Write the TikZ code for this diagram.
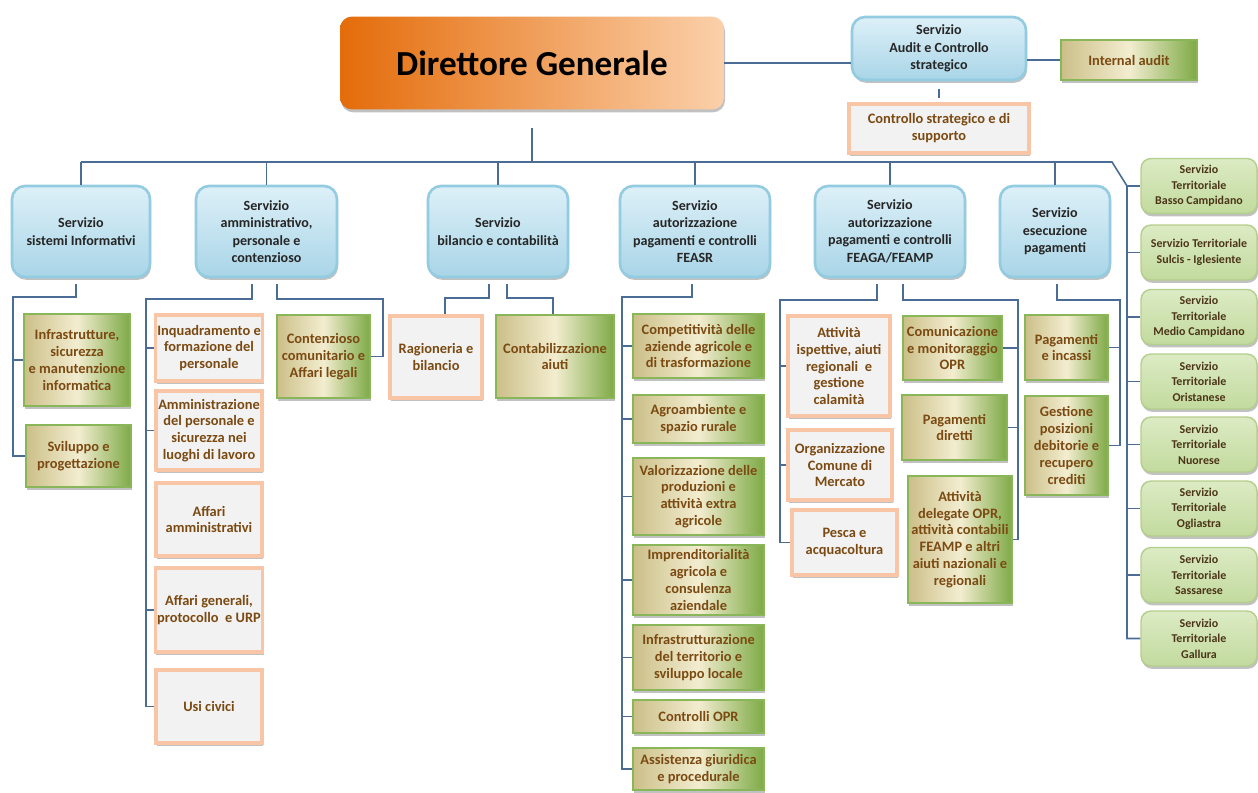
\documentclass[tikz,border=0pt]{standalone}
\usepackage{fontspec}
\setmainfont{Carlito}
\usetikzlibrary{shadows}
\definecolor{lineablu}{HTML}{4A6C95}
\definecolor{bluchiaro}{HTML}{DDF0F8}
\definecolor{blumedio}{HTML}{A9D5E7}
\definecolor{blubordo}{HTML}{93CBE0}
\definecolor{aranscuro}{HTML}{E46C0A}
\definecolor{aranchiaro}{HTML}{FBD0AA}
\definecolor{verdescuro}{HTML}{7EAA47}
\definecolor{crema}{HTML}{F3EDD0}
\definecolor{beige}{HTML}{CBBF88}
\definecolor{verdebordo}{HTML}{8AB65A}
\definecolor{pesca}{HTML}{F8C6A6}
\definecolor{grigino}{HTML}{F2F2F2}
\definecolor{marrone}{HTML}{7B4A12}
\definecolor{terrchiaro}{HTML}{DCEBC4}
\definecolor{terrscuro}{HTML}{C2DA9E}
\definecolor{terrbordo}{HTML}{B3CF8C}
\definecolor{terrtesto}{HTML}{4B3418}
\begin{document}
\begin{tikzpicture}[x=0.02cm, y=-0.02cm,
  linea/.style={draw=lineablu, line width=0.9pt},
  ombra/.style={drop shadow={shadow xshift=0.6pt, shadow yshift=-1.6pt, opacity=0.35, fill=black!70}},
  capo/.style={rectangle, rounded corners=0.24cm, left color=aranscuro, right color=aranchiaro, font=\bfseries\fontsize{20}{24}\selectfont, text=black, ombra},
  blu/.style={rectangle, rounded corners=0.26cm, draw=blubordo, line width=1.5pt, top color=bluchiaro, bottom color=blumedio, align=center, font=\bfseries\fontsize{8}{10}\selectfont, text=black!85, inner sep=1pt, ombra},
  verde/.style={rectangle, draw=verdebordo, line width=1.2pt, left color=beige, right color=verdescuro, middle color=crema, align=center, font=\bfseries\fontsize{8.2}{9.6}\selectfont, text=marrone, inner sep=1pt, ombra},
  arancio/.style={rectangle, draw=pesca, line width=2pt, fill=grigino, align=center, font=\bfseries\fontsize{8.2}{9.6}\selectfont, text=marrone, inner sep=1pt, ombra},
  terr/.style={rectangle, rounded corners=0.2cm, draw=terrbordo, line width=0.8pt, top color=terrchiaro, bottom color=terrscuro, align=center, font=\bfseries\fontsize{6.8}{8.8}\selectfont, text=terrtesto, inner sep=1pt, minimum width=2.32cm, minimum height=1.1cm, ombra}]
\useasboundingbox (0,0) rectangle (1258,792);

\node[capo, minimum width=7.68cm, minimum height=1.86cm] (dg) at (532,63) {Direttore Generale};
\node[blu, minimum width=3.48cm, minimum height=1.26cm] (audit) at (939,48.5) {Servizio\\Audit e Controllo\\strategico};
\node[verde, minimum width=2.72cm, minimum height=0.8cm] (internal) at (1129,60) {Internal audit};
\node[arancio, minimum width=3.6cm, minimum height=0.98cm] (strat) at (939,128.5) {Controllo strategico e di\\supporto};

\node[blu, minimum width=2.76cm, minimum height=1.82cm] (sistemi) at (81,231.5) {Servizio\\sistemi Informativi};
\node[blu, minimum width=2.82cm, minimum height=1.82cm] (ammin) at (266.5,231.5) {Servizio\\amministrativo,\\personale e\\contenzioso};
\node[blu, minimum width=2.8cm, minimum height=1.82cm] (bilancio) at (498,231.5) {Servizio\\bilancio e contabilità};
\node[blu, minimum width=3cm, minimum height=1.82cm] (feasr) at (695,231.5) {Servizio\\autorizzazione\\pagamenti e controlli\\FEASR};
\node[blu, minimum width=3cm, minimum height=1.82cm] (feaga) at (890,231.5) {Servizio\\autorizzazione\\pagamenti e controlli\\FEAGA/FEAMP};
\node[blu, minimum width=2.2cm, minimum height=1.82cm] (esec) at (1055,231.5) {Servizio\\esecuzione\\pagamenti};

\node[terr] (basso) at (1199,186) {Servizio\\Territoriale\\Basso Campidano};
\node[terr] (sulcis) at (1199,252.5) {Servizio Territoriale\\Sulcis - Iglesiente};
\node[terr] (medio) at (1199,317) {Servizio\\Territoriale\\Medio Campidano};
\node[terr] (orist) at (1199,381.5) {Servizio\\Territoriale\\Oristanese};
\node[terr] (nuoro) at (1199,444.5) {Servizio\\Territoriale\\Nuorese};
\node[terr] (oglia) at (1199,508.5) {Servizio\\Territoriale\\Ogliastra};
\node[terr] (sassa) at (1199,575) {Servizio\\Territoriale\\Sassarese};
\node[terr] (gallu) at (1199,638.5) {Servizio\\Territoriale\\Gallura};

\node[verde, minimum width=2.12cm, minimum height=1.84cm] (infra) at (77,360) {Infrastrutture,\\sicurezza\\e manutenzione\\informatica};
\node[verde, minimum width=2.1cm, minimum height=1.24cm] (svil) at (78.5,456) {Sviluppo e\\progettazione};

\node[arancio, minimum width=2.12cm, minimum height=1.32cm] (inq) at (209,348) {Inquadramento e\\formazione del\\personale};
\node[arancio, minimum width=2.12cm, minimum height=1.58cm] (amm) at (209,430.5) {Amministrazione\\del personale e\\sicurezza nei\\luoghi di lavoro};
\node[arancio, minimum width=2.12cm, minimum height=1.46cm] (affamm) at (209,519.5) {Affari\\amministrativi};
\node[arancio, minimum width=2.12cm, minimum height=1.68cm] (affgen) at (209,610) {Affari generali,\\protocollo\ \ e URP};
\node[arancio, minimum width=2.12cm, minimum height=1.46cm] (usi) at (209,706.5) {Usi civici};
\node[verde, minimum width=1.86cm, minimum height=1.66cm] (cont) at (323.5,356.5) {Contenzioso\\comunitario e\\Affari legali};

\node[arancio, minimum width=1.84cm, minimum height=1.64cm] (ragion) at (436,357) {Ragioneria e\\bilancio};
\node[verde, minimum width=2.36cm, minimum height=1.66cm] (contab) at (555,356.5) {Contabilizzazione\\aiuti};

\node[verde, minimum width=2.62cm, minimum height=1.28cm] (compet) at (698.5,346) {Competitività delle\\aziende agricole e\\di trasformazione};
\node[verde, minimum width=2.62cm, minimum height=0.96cm] (agro) at (698.5,419) {Agroambiente e\\spazio rurale};
\node[verde, minimum width=2.62cm, minimum height=1.54cm] (valor) at (698.5,496.5) {Valorizzazione delle\\produzioni e\\attività extra\\agricole};
\node[verde, minimum width=2.62cm, minimum height=1.4cm] (impr) at (698.5,580) {Imprenditorialità\\agricola e\\consulenza\\aziendale};
\node[verde, minimum width=2.62cm, minimum height=1.3cm] (infrt) at (698.5,657.5) {Infrastrutturazione\\del territorio e\\sviluppo locale};
\node[verde, minimum width=2.62cm, minimum height=0.66cm] (contr) at (698.5,716.5) {Controlli OPR};
\node[verde, minimum width=2.62cm, minimum height=0.84cm] (assist) at (698.5,769) {Assistenza giuridica\\e procedurale};

\node[arancio, minimum width=2.04cm, minimum height=2cm] (ispett) at (839,366) {Attività\\ispettive, aiuti\\regionali\ \ e\\gestione\\calamità};
\node[arancio, minimum width=2.08cm, minimum height=1.4cm] (ocm) at (840,465) {Organizzazione\\Comune di\\Mercato};
\node[arancio, minimum width=2.1cm, minimum height=1.3cm] (pesca) at (844.5,542.5) {Pesca e\\acquacoltura};
\node[verde, minimum width=1.98cm, minimum height=1.28cm] (comun) at (952.5,348) {Comunicazione\\e monitoraggio\\OPR};
\node[verde, minimum width=2.1cm, minimum height=1.3cm] (pagdir) at (954.5,427.5) {Pagamenti\\diretti};
\node[verde, minimum width=2.08cm, minimum height=2.54cm] (deleg) at (960,539.5) {Attività\\delegate OPR,\\attività contabili\\FEAMP e altri\\aiuti nazionali e\\regionali};

\node[verde, minimum width=1.66cm, minimum height=1.3cm] (pagin) at (1066.5,347.5) {Pagamenti\\e incassi};
\node[verde, minimum width=1.66cm, minimum height=1.98cm] (gest) at (1066.5,445.5) {Gestione\\posizioni\\debitorie e\\recupero\\crediti};

\coordinate (bus) at (532,162);
\coordinate (busR) at (1112,162);
\coordinate (tsp) at (1127,186);
\coordinate (s1) at (13,297);
\coordinate (s2) at (146,299);
\coordinate (s3) at (383,299);
\coordinate (s4) at (445,298);
\coordinate (s5) at (553,298);
\coordinate (s6) at (622,297);
\coordinate (s7) at (780,300);
\coordinate (s8) at (1018,300);
\coordinate (s9) at (1120,300);

\draw[linea] (dg.east) -- (dg.east -| audit.west);
\draw[linea] (internal.west -| audit.east) -- (internal.west);
\draw[linea, shorten <=0.16cm, shorten >=0.08cm] (audit.south) -- (strat.north);
\draw[linea, shorten <=0.36cm] (dg.south) -- (bus);
\draw[linea] (sistemi.north |- bus) -- (busR) -- (tsp) |- (gallu.west);
\draw[linea] (sistemi.north |- bus) -- (sistemi.north) (ammin.north |- bus) -- (ammin.north) (bilancio.north |- bus) -- (bilancio.north) (feasr.north |- bus) -- (feasr.north) (feaga.north |- bus) -- (feaga.north) (esec.north |- bus) -- (esec.north);
\draw[linea] (tsp |- basso.west) -- (basso.west) (tsp |- sulcis.west) -- (sulcis.west) (tsp |- medio.west) -- (medio.west) (tsp |- orist.west) -- (orist.west) (tsp |- nuoro.west) -- (nuoro.west) (tsp |- oglia.west) -- (oglia.west) (tsp |- sassa.west) -- (sassa.west);

\draw[linea] ([xshift=-0.1cm, yshift=-0.12cm]sistemi.south) |- (s1) |- (svil.west);
\draw[linea] (s1 |- infra.west) -- (infra.west);

\draw[linea] ([xshift=-0.29cm, yshift=-0.12cm]ammin.south) |- (s2) |- (usi.west);
\draw[linea] (s2 |- inq.west) -- (inq.west) (s2 |- amm.west) -- (amm.west) (s2 |- affgen.west) -- (affgen.west);
\draw[linea] ([xshift=0.21cm, yshift=-0.12cm]ammin.south) |- (s3) |- (cont.east);

\draw[linea] ([xshift=-0.18cm, yshift=-0.12cm]bilancio.south) |- (s4) -- (s4 |- ragion.north);
\draw[linea] ([xshift=0.18cm, yshift=-0.12cm]bilancio.south) |- (s5) -- (s5 |- contab.north);

\draw[linea] ([xshift=-0.06cm, yshift=-0.12cm]feasr.south) |- (s6) |- (assist.west);
\draw[linea] (s6 |- compet.west) -- (compet.west) (s6 |- agro.west) -- (agro.west) (s6 |- valor.west) -- (valor.west) (s6 |- impr.west) -- (impr.west) (s6 |- infrt.west) -- (infrt.west) (s6 |- contr.west) -- (contr.west);

\draw[linea] ([xshift=-0.26cm, yshift=-0.12cm]feaga.south) |- (s7) |- (pesca.west);
\draw[linea] (s7 |- ispett.west) -- (ispett.west) (s7 |- ocm.west) -- (ocm.west);
\draw[linea] ([xshift=0.26cm, yshift=-0.12cm]feaga.south) |- (s8) |- (deleg.east);
\draw[linea] (s8 |- comun.east) -- (comun.east) (s8 |- pagdir.east) -- (pagdir.east);

\draw[linea] ([xshift=0.04cm, yshift=-0.12cm]esec.south) |- (s9) |- (gest.east);
\draw[linea] (s9 |- pagin.east) -- (pagin.east);
\end{tikzpicture}
\end{document}
